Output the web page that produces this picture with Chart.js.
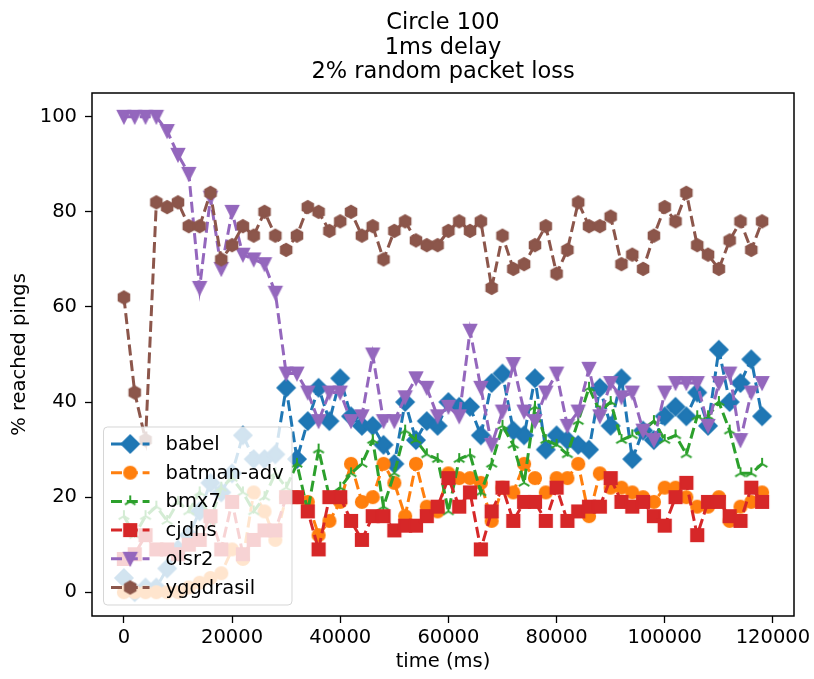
<!DOCTYPE html>
<html>
<head>
<meta charset="utf-8">
<script src="https://cdn.jsdelivr.net/npm/chart.js@4.4.1/dist/chart.umd.min.js"></script>
<style>
  html, body { margin: 0; padding: 0; background: #fff; }
  #chart { display: block; }
</style>
</head>
<body>
<canvas id="chart" width="814" height="679"></canvas>
<script>
// --- data ---
const titleLines = ['Circle 100', '1ms delay', '2% random packet loss'];
const xLabel = 'time (ms)';
const yLabel = '% reached pings';

const timeMs = [
  0, 2000, 4000, 6000, 8000, 10000, 12000, 14000, 16000, 18000,
  20000, 22000, 24000, 26000, 28000, 30000, 32000, 34000, 36000, 38000,
  40000, 42000, 44000, 46000, 48000, 50000, 52000, 54000, 56000, 58000,
  60000, 62000, 64000, 66000, 68000, 70000, 72000, 74000, 76000, 78000,
  80000, 82000, 84000, 86000, 88000, 90000, 92000, 94000, 96000, 98000,
  100000, 102000, 104000, 106000, 108000, 110000, 112000, 114000, 116000, 118000
];

const babel = [3, 0, 1, 1, 5, 9, 12, 17, 23, 21, 25, 33, 28, 28, 29,
  43, 28, 36, 43, 36, 45, 37, 35, 35, 31, 27, 40, 32, 36, 35,
  40, 39, 39, 33, 44, 46, 34, 33, 45, 30, 33, 32, 31, 30, 43,
  35, 45, 28, 34, 32, 37, 39, 37, 42, 35, 51, 40, 44, 49, 37];
const batmanAdv = [0, 0, 0, 0, 0, 0, 1, 2, 3, 4, 9, 7, 21, 17, 11,
  20, 20, 19, 12, 15, 19, 27, 19, 20, 27, 23, 16, 27, 18, 17,
  25, 24, 24, 23, 15, 22, 21, 27, 24, 21, 24, 24, 27, 16, 25,
  22, 22, 21, 20, 19, 22, 22, 20, 18, 18, 20, 15, 18, 19, 21];
const bmx7 = [16, 12, 16, 18, 15, 19, 17, 21, 15, 22, 24, 21, 17, 20, 25,
  22, 27, 17, 30, 20, 22, 25, 27, 32, 18, 25, 34, 32, 29, 28,
  17, 28, 29, 21, 27, 35, 31, 23, 39, 32, 31, 29, 36, 43, 38,
  40, 32, 33, 34, 36, 32, 33, 29, 37, 37, 40, 34, 25, 25, 27];
const cjdns = [7, 8, 12, 9, 9, 8, 10, 11, 16, 9, 19, 8, 11, 13, 13,
  20, 20, 17, 9, 20, 20, 15, 11, 16, 16, 13, 14, 14, 16, 18,
  24, 18, 21, 9, 17, 22, 15, 19, 19, 15, 22, 15, 17, 18, 18,
  24, 19, 18, 19, 16, 14, 20, 23, 12, 19, 19, 16, 15, 22, 19];
const olsr2 = [100, 100, 100, 100, 97, 92, 88, 64, 83, 68, 80, 71, 70, 69, 63,
  46, 46, 42, 36, 42, 42, 36, 37, 50, 36, 36, 41, 45, 43, 37,
  39, 37, 55, 43, 31, 38, 48, 38, 36, 42, 46, 35, 38, 47, 37,
  44, 41, 42, 34, 32, 42, 44, 44, 44, 35, 44, 46, 32, 42, 44];
const yggdrasil = [62, 42, 32, 82, 81, 82, 77, 77, 84, 70, 73, 77, 75, 80, 75,
  72, 75, 81, 80, 76, 78, 80, 75, 77, 70, 76, 78, 74, 73, 73,
  76, 78, 76, 78, 64, 75, 68, 69, 73, 77, 67, 72, 82, 77, 77,
  79, 69, 71, 68, 75, 81, 78, 84, 73, 71, 68, 74, 78, 72, 78];

const seriesNames = ['babel', 'batman-adv', 'bmx7', 'cjdns', 'olsr2', 'yggdrasil'];
const seriesValues = [babel, batmanAdv, bmx7, cjdns, olsr2, yggdrasil];

const xTicks = [0, 20000, 40000, 60000, 80000, 100000, 120000];
const yTicks = [0, 20, 40, 60, 80, 100];

// --- styling (matplotlib look) ---
const FONT = 'DejaVu Sans';
const colors = ['#1f77b4', '#ff7f0e', '#2ca02c', '#d62728', '#9467bd', '#8c564b'];
const shapes = ['D', 'o', '2', 's', 'v', 'h'];
const MS = 12.2;   // marker size in px
const EW = 2.0;    // marker edge width
const LW = 3.0;    // line width
const DASH = [11, 4.8];

// builds a small canvas holding one matplotlib-like marker
function makeMarker(shape, color) {
  const size = 28;
  const c = document.createElement('canvas');
  c.width = size; c.height = size;
  const g = c.getContext('2d');
  g.translate(size / 2, size / 2);
  g.fillStyle = color;
  g.strokeStyle = color;
  g.lineWidth = EW;
  g.lineJoin = 'miter';
  const h = MS / 2;
  g.beginPath();
  if (shape === 'D') {
    const d = 0.7071 * MS;
    g.moveTo(0, -d); g.lineTo(d, 0); g.lineTo(0, d); g.lineTo(-d, 0); g.closePath();
  } else if (shape === 'o') {
    g.arc(0, 0, h, 0, Math.PI * 2);
  } else if (shape === 's') {
    g.rect(-h, -h, MS, MS);
  } else if (shape === 'v') {
    g.moveTo(0, h); g.lineTo(-h, -h); g.lineTo(h, -h); g.closePath();
  } else if (shape === 'h') {
    for (let k = 0; k < 6; k++) {
      const a = Math.PI / 2 + k * Math.PI / 3;
      const px = h * Math.cos(a), py = -h * Math.sin(a);
      if (k === 0) g.moveTo(px, py); else g.lineTo(px, py);
    }
    g.closePath();
  } else if (shape === '2') {
    g.moveTo(0, 0); g.lineTo(0, -h);
    g.moveTo(0, 0); g.lineTo(-0.866 * h, 0.5 * h);
    g.moveTo(0, 0); g.lineTo(0.866 * h, 0.5 * h);
    g.stroke();
    return c;
  }
  g.fill();
  g.stroke();
  return c;
}

const markers = shapes.map((s, i) => makeMarker(s, colors[i]));

const datasets = seriesNames.map((name, i) => ({
  label: name,
  data: timeMs.map((t, k) => ({ x: t, y: seriesValues[i][k] })),
  borderColor: colors[i],
  backgroundColor: colors[i],
  borderWidth: LW,
  borderDash: DASH,
  pointStyle: markers[i],
  pointRadius: 6,
  tension: 0,
  fill: false,
  order: seriesNames.length - i   // later series on top, as in matplotlib
}));

const mplDecor = {
  id: 'mplDecor',
  beforeDraw(chart) {
    const ctx = chart.ctx;
    ctx.save();
    ctx.fillStyle = '#fff';
    ctx.fillRect(0, 0, chart.width, chart.height);
    ctx.restore();
  },
  afterDatasetsDraw(chart) {
    const ctx = chart.ctx;
    const ca = chart.chartArea;
    ctx.save();
    // axes frame
    ctx.strokeStyle = '#000';
    ctx.lineWidth = 1.5;
    ctx.strokeRect(ca.left, ca.top, ca.right - ca.left, ca.bottom - ca.top);

    // legend, lower left
    const w = 188.5, h = 178;
    const x0 = ca.left + 11.5, y0 = ca.bottom - 11 - h;
    const r = 4;
    ctx.beginPath();
    ctx.moveTo(x0 + r, y0);
    ctx.arcTo(x0 + w, y0, x0 + w, y0 + h, r);
    ctx.arcTo(x0 + w, y0 + h, x0, y0 + h, r);
    ctx.arcTo(x0, y0 + h, x0, y0, r);
    ctx.arcTo(x0, y0, x0 + w, y0, r);
    ctx.closePath();
    ctx.fillStyle = 'rgba(255,255,255,0.8)';
    ctx.fill();
    ctx.strokeStyle = 'rgba(204,204,204,0.8)';
    ctx.lineWidth = 1;
    ctx.stroke();

    ctx.font = '19.5px "' + FONT + '"';
    ctx.textBaseline = 'middle';
    ctx.textAlign = 'left';
    seriesNames.forEach((name, i) => {
      const cy = y0 + 17 + i * 28.7;
      const hx0 = x0 + 7.5, hx1 = x0 + 46;
      ctx.strokeStyle = colors[i];
      ctx.lineWidth = LW;
      ctx.setLineDash(DASH);
      ctx.beginPath();
      ctx.moveTo(hx0, cy);
      ctx.lineTo(hx1, cy);
      ctx.stroke();
      ctx.setLineDash([]);
      const m = markers[i];
      ctx.drawImage(m, (hx0 + hx1) / 2 - m.width / 2, cy - m.height / 2);
      ctx.fillStyle = '#000';
      ctx.fillText(name, x0 + 62, cy + 1);
    });
    ctx.restore();
  },
  afterDraw(chart) {
    const ctx = chart.ctx;
    const ca = chart.chartArea;
    ctx.save();
    ctx.fillStyle = '#000';
    ctx.font = '22.5px "' + FONT + '"';
    ctx.textAlign = 'center';
    ctx.textBaseline = 'alphabetic';
    const cx = (ca.left + ca.right) / 2;
    titleLines.forEach((t, i) => ctx.fillText(t, cx, 29 + i * 24.5));
    ctx.restore();
  }
};

const tickFont = { family: FONT, size: 19.5 };

new Chart(document.getElementById('chart'), {
  type: 'line',
  data: { datasets },
  options: {
    responsive: false,
    devicePixelRatio: 1,
    animation: false,
    events: [],
    layout: { padding: { left: 0, right: 20, top: 93, bottom: 0 } },
    plugins: {
      legend: { display: false },
      title: { display: false },
      tooltip: { enabled: false }
    },
    scales: {
      x: {
        type: 'linear',
        min: -5900,
        max: 123900,
        afterBuildTicks: s => { s.ticks = xTicks.map(v => ({ value: v })); },
        afterFit: s => { s.height = 63; },
        ticks: {
          callback: v => String(v),
          font: tickFont,
          color: '#000',
          padding: 3,
          maxRotation: 0,
          autoSkip: false
        },
        grid: { drawOnChartArea: false, drawTicks: true, tickLength: 7, color: '#000', tickWidth: 1.3 },
        border: { display: false },
        title: { display: true, text: xLabel, font: tickFont, color: '#000', padding: { top: 0, bottom: 5 } }
      },
      y: {
        type: 'linear',
        min: -5,
        max: 105,
        afterBuildTicks: s => { s.ticks = yTicks.map(v => ({ value: v })); },
        afterFit: s => { s.width = 92; },
        ticks: {
          callback: v => String(v),
          font: tickFont,
          color: '#000',
          padding: 8,
          autoSkip: false
        },
        grid: { drawOnChartArea: false, drawTicks: true, tickLength: 7, color: '#000', tickWidth: 1.3 },
        border: { display: false },
        title: { display: true, text: yLabel, font: tickFont, color: '#000', padding: { top: 8, bottom: 0 } }
      }
    }
  },
  plugins: [mplDecor]
});
</script>
</body>
</html>
